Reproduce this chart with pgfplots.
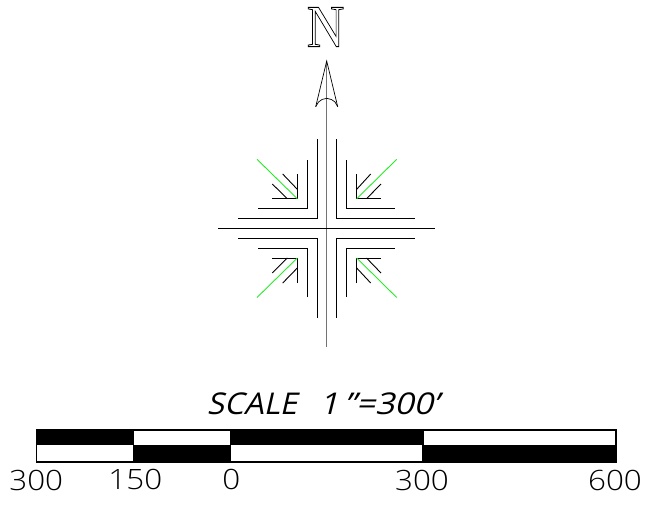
\documentclass[border=0pt]{standalone}
\usepackage{fontspec}
\usepackage{pgfplots}
\pgfplotsset{compat=1.18}
\setmainfont{Liberation Sans}
\newfontfamily\cadfont{Open Sans Light}
\newfontfamily\cadslant[FakeSlant=0.22]{Open Sans}
\newfontfamily\nfont{Liberation Serif}
\definecolor{cadgreen}{RGB}{40,235,40}
\begin{document}
\begin{tikzpicture}
\useasboundingbox (0,0) rectangle (645pt,504pt);
\begin{axis}[
  scale only axis, width=645pt, height=504pt,
  xmin=0, xmax=645, ymin=0, ymax=504, y dir=reverse,
  hide axis, clip=false,
  cycle list={{black,solid}},
  every axis plot/.append style={no markers, line width=0.9pt, line cap=butt},
]
% main cross
\addplot[gray!90!black, line width=0.8pt] coordinates {(326.7,61) (326.7,346.7)};
\addplot[black, line width=1.1pt] coordinates {(218.3,228.4) (435,228.4)};
% arrow head
\addplot[black, line width=0.7pt] coordinates {(315.7,106.7) (326.7,61) (337.7,106.7)};
\addplot[black, line width=0.7pt] coordinates {(315.7,106.7) (318.5,102) (322,99.5) (326.7,98.3) (331.4,99.5) (335,102) (337.7,106.7)};
% outer corners
\addplot coordinates {(317,139.3) (317,218.4) (238.3,218.4)};
\addplot coordinates {(336.7,139.3) (336.7,218.4) (415.3,218.4)};
\addplot coordinates {(317,317.5) (317,238.3) (238.3,238.3)};
\addplot coordinates {(336.7,317.5) (336.7,238.3) (415.3,238.3)};
% inner corners
\addplot coordinates {(307,160) (307,208.7) (258.3,208.7)};
\addplot coordinates {(346.3,160) (346.3,208.7) (395.3,208.7)};
\addplot coordinates {(307,297) (307,248) (258.3,248)};
\addplot coordinates {(346.3,297) (346.3,248) (395.3,248)};
% small arrows, upper left
\addplot coordinates {(297.3,174) (297.3,198.7) (272.3,198.7)};
\addplot coordinates {(282.7,174) (297.3,189.3)};
\addplot coordinates {(272.3,184) (287.3,198.7)};
% upper right
\addplot coordinates {(356.7,174) (356.7,198.7) (381,198.7)};
\addplot coordinates {(370.7,174) (356.7,189.3)};
\addplot coordinates {(381,184) (366.5,198.7)};
% lower left
\addplot coordinates {(297.3,283) (297.3,258) (272.3,258)};
\addplot coordinates {(282.7,283) (297.3,268)};
\addplot coordinates {(272.3,273) (287.3,258)};
% lower right
\addplot coordinates {(356.7,283) (356.7,258) (381,258)};
\addplot coordinates {(370.7,283) (356.7,268)};
\addplot coordinates {(381,273) (366.5,258)};
% green diagonals
\addplot[cadgreen, line width=0.9pt] coordinates {(257,159.3) (297.3,198.7)};
\addplot[cadgreen, line width=0.9pt] coordinates {(396.7,159.3) (356.7,198.7)};
\addplot[cadgreen, line width=0.9pt] coordinates {(257,297.5) (297.3,258)};
\addplot[cadgreen, line width=0.9pt] coordinates {(396.7,297.5) (356.7,258)};
% scale bar
\addplot[fill=black, draw=none] coordinates {(36,429.3) (134.3,429.3) (134.3,445.3) (36,445.3)} --cycle;
\addplot[fill=black, draw=none] coordinates {(229.7,429.3) (424,429.3) (424,445.3) (229.7,445.3)} --cycle;
\addplot[fill=black, draw=none] coordinates {(132.7,445.3) (231.3,445.3) (231.3,462.7) (132.7,462.7)} --cycle;
\addplot[fill=black, draw=none] coordinates {(421.7,445.3) (616.7,445.3) (616.7,462.7) (421.7,462.7)} --cycle;
\addplot[black, line width=1.4pt] coordinates {(36.7,429.8) (616,429.8) (616,462) (36.7,462)} --cycle;
% text
\node[xscale=0.87] at (axis cs:325.5,27) {\special{pdf:code q 1 Tr 0.8 w}\nfont\fontsize{60}{60}\selectfont N\special{pdf:code Q}};
\node[xscale=1.04] at (axis cs:252,404) {\cadslant\fontsize{30}{30}\selectfont SCALE};
\node[xscale=1.12] at (axis cs:379,404) {\cadslant\fontsize{30}{30}\selectfont 1\,”=300’};
\node[xscale=1.12] at (axis cs:36.2,480) {\cadfont\fontsize{28}{28}\selectfont 300};
\node[xscale=1.12] at (axis cs:135.3,479) {\cadfont\fontsize{28}{28}\selectfont 150};
\node[xscale=1.12] at (axis cs:231.3,479) {\cadfont\fontsize{28}{28}\selectfont 0};
\node[xscale=1.12] at (axis cs:422,480) {\cadfont\fontsize{28}{28}\selectfont 300};
\node[xscale=1.12] at (axis cs:615,480) {\cadfont\fontsize{28}{28}\selectfont 600};
\end{axis}
\end{tikzpicture}
\end{document}
